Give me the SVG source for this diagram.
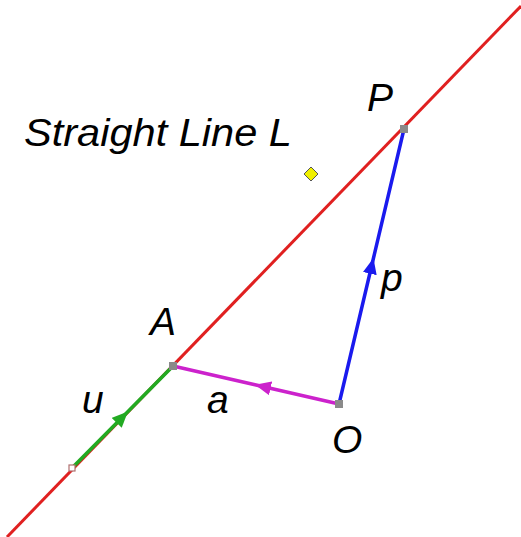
<svg xmlns="http://www.w3.org/2000/svg" width="521" height="537" viewBox="0 0 521 537">
<style>
.lbl{font-family:"Liberation Sans",Arial,sans-serif;font-style:italic;font-size:39px;fill:#000}
.pt{fill:#8a8a8a}
.seg{stroke-width:3.5;fill:none}
</style>
<defs>
<marker id="ag" markerUnits="userSpaceOnUse" markerWidth="16" markerHeight="14" refX="16" refY="7" orient="auto"><path d="M0,0 L16,7 L0,14 z" fill="#22aa22"/></marker>
<marker id="am" markerUnits="userSpaceOnUse" markerWidth="16" markerHeight="14" refX="16" refY="7" orient="auto"><path d="M0,0 L16,7 L0,14 z" fill="#cc22cc"/></marker>
<marker id="ab" markerUnits="userSpaceOnUse" markerWidth="16" markerHeight="14" refX="16" refY="7" orient="auto"><path d="M0,0 L16,7 L0,14 z" fill="#1a1aee"/></marker>
</defs>
<rect width="521" height="537" fill="#fff"/>
<g id="connectors">
<line x1="7" y1="537" x2="521" y2="6" stroke="#e02020" stroke-width="3"/>
<path class="seg" d="M72,468 L128,411.5 L173,366" stroke="#22aa22" marker-mid="url(#ag)"/>
<path class="seg" d="M339,404 L255,384.8 L173,366" stroke="#cc22cc" marker-mid="url(#am)"/>
<path class="seg" d="M339,404 L373.5,258 L404,129" stroke="#1a1aee" marker-mid="url(#ab)"/>
</g>
<g id="pointStart"><rect x="69" y="465" width="6" height="6" fill="#fff" stroke="#b07070" stroke-width="1.2"/></g>
<g id="pointA"><rect class="pt" x="169" y="362" width="8" height="8"/><text class="lbl" x="150" y="335">A</text></g>
<g id="pointP"><rect class="pt" x="400" y="125" width="8" height="8"/><text class="lbl" x="367" y="111">P</text></g>
<g id="pointO"><rect class="pt" x="335" y="400" width="8" height="8"/><text class="lbl" x="332" y="453">O</text></g>
<g id="lineL"><text class="lbl" x="24" y="146" textLength="268" lengthAdjust="spacingAndGlyphs">Straight Line L</text><polygon points="311,167 318,174 311,181 304,174" fill="#f0f000" stroke="#555" stroke-width="1"/></g>
<g id="labels">
<text class="lbl" x="82" y="413">u</text>
<text class="lbl" x="207" y="413">a</text>
<text class="lbl" x="381" y="291">p</text>
</g>
</svg>
